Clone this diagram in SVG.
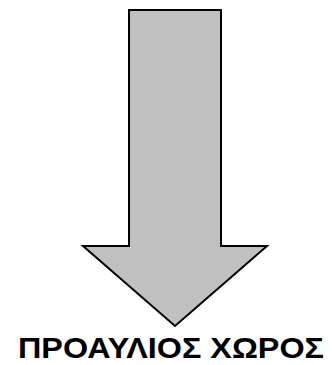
<svg xmlns="http://www.w3.org/2000/svg" width="332" height="365" viewBox="0 0 332 365">
<style>
.arrow{fill:#c0c0c0;stroke:#000;stroke-width:2;stroke-linejoin:miter}
.label{font-family:"Liberation Sans",Arial,sans-serif;font-weight:bold;font-size:29.5px;fill:#000}
</style>
<rect width="332" height="365" fill="#fff"/>
<g id="arrow">
<polygon class="arrow" points="129,10 221,10 221,246 267,246 175,326 83,246 129,246"/>
</g>
<g id="label">
<text class="label" x="18" y="358" textLength="306" lengthAdjust="spacingAndGlyphs">ΠΡΟΑΥΛΙΟΣ ΧΩΡΟΣ</text>
</g>
</svg>
